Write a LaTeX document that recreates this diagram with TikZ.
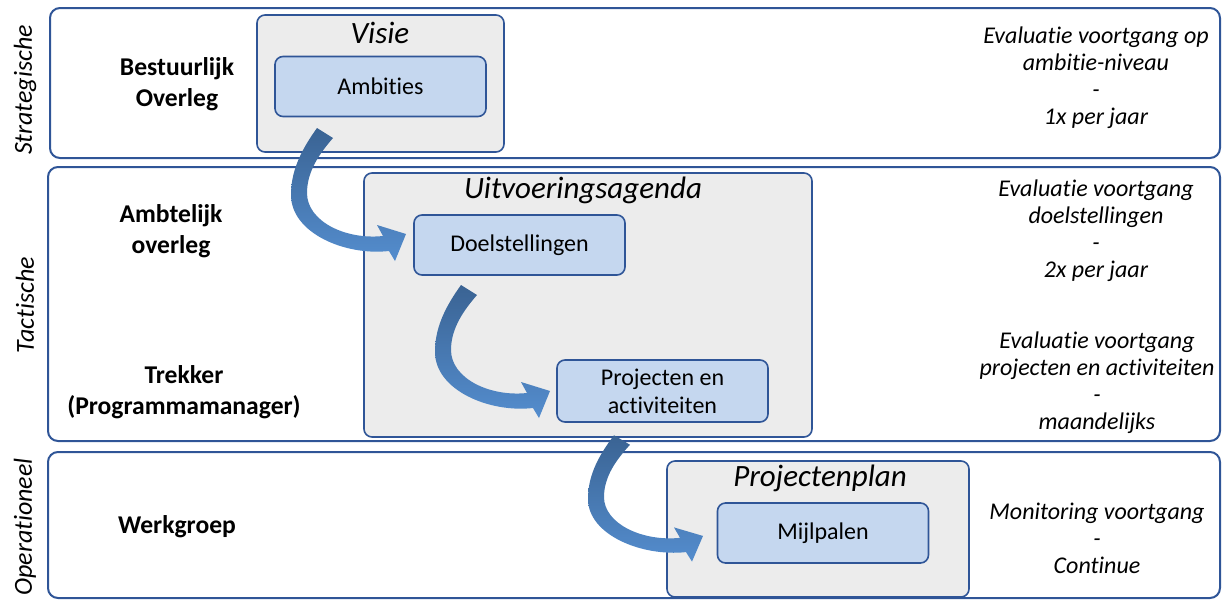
\documentclass[tikz,border=0pt]{standalone}
\usepackage{fontspec}
\setmainfont{Carlito}[Ligatures=CommonOff]
\usetikzlibrary{positioning}

\definecolor{rimblue}{HTML}{2F5597}
\definecolor{boxgray}{HTML}{ECECEC}
\definecolor{boxblue}{HTML}{C5D7EF}
\definecolor{arrdark}{HTML}{3A6393}
\definecolor{arrlight}{HTML}{548DCE}

\tikzset{
  band/.style={draw=rimblue, line width=1pt, rounded corners=5pt},
  holder/.style={draw=rimblue, fill=boxgray, line width=0.8pt, rounded corners=4pt},
  item/.style={draw=rimblue, fill=boxblue, line width=0.8pt, rounded corners=4pt,
    minimum width=105.5pt, minimum height=30pt, align=center,
    font=\fontsize{12}{14}\selectfont},
  title/.style={font=\fontsize{15.5}{18}\selectfont\itshape},
  who/.style={align=center, font=\fontsize{12.8}{15.5}\selectfont\bfseries},
  level/.style={rotate=90, font=\fontsize{13}{15}\selectfont\itshape},
  note/.style={align=center, font=\fontsize{12}{13.5}\selectfont\itshape},
  pics/bendarrow/.style={code={
    \path[top color=arrdark, bottom color=arrlight]
      (-8,-5) .. controls (-26,20) and (-34,40) .. (-34,62)
      .. controls (-34,100) and (20,123) .. (64,118)
      -- (70,128) -- (81,101) -- (52,92) -- (58,103)
      .. controls (20,107) and (-18,88) .. (-18,60)
      .. controls (-18,38) and (-5,20) .. (8,5) -- cycle;
  }}
}

\begin{document}
\begin{tikzpicture}[x=0.5pt, y=-0.5pt]
  \useasboundingbox (0,0) rectangle (1222,601);

  % lagen
  \draw[band] (50,8) rectangle (1220,158);
  \draw[band] (48,167) rectangle (1220,441);
  \draw[band] (48,452) rectangle (1220,598);

  \node[level] (strat) at (25,90) {Strategische};
  \node[level] (tact) at (25,305) {Tactische};
  \node[level] (oper) at (25,527) {Operationeel};

  % overleg
  \node[who] (bestuur) at (177,84) {Bestuurlijk\\Overleg};
  \node[who] (ambt) at (171,231) {Ambtelijk\\overleg};
  \node[who] (trekker) at (184,392) {Trekker\\(Programmamanager)};
  \node[who] (werk) at (177,527) {Werkgroep};

  % documenten
  \draw[holder] (257,15) rectangle (504,152);
  \node[title] (visie) at (380,33) {Visie};
  \node[item] (ambities) at (380.5,86.5) {Ambities};

  \draw[holder] (364,173) rectangle (812,437);
  \node[title] (agenda) at (583,190) {Uitvoeringsagenda};
  \node[item] (doel) at (519.5,245) {Doelstellingen};
  \node[item, minimum height=31pt] (proj) at (662.5,391) {Projecten en\\activiteiten};

  \draw[holder] (667,461) rectangle (969,597);
  \node[title] (plan) at (820,478) {Projectenplan};
  \node[item] (mijl) at (823,533) {Mijlpalen};

  % evaluatie
  \node[note] (ev1) at (1096,78) {Evaluatie voortgang op\\ambitie-niveau\\-\\1x per jaar};
  \node[note] (ev2) at (1096,231) {Evaluatie voortgang\\doelstellingen\\-\\2x per jaar};
  \node[note] (ev3) at (1097,383) {Evaluatie voortgang\\projecten en activiteiten\\-\\maandelijks};
  \node[note] (ev4) at (1097,538) {Monitoring voortgang\\-\\Continue};

  % pijlen
  \coordinate (a1) at (325,133);
  \coordinate (a2) at (469,290);
  \coordinate (a3) at (622,440);
  \pic at (a1) {bendarrow};
  \pic at (a2) {bendarrow};
  \pic[yscale=0.95] at (a3) {bendarrow};
\end{tikzpicture}
\end{document}
